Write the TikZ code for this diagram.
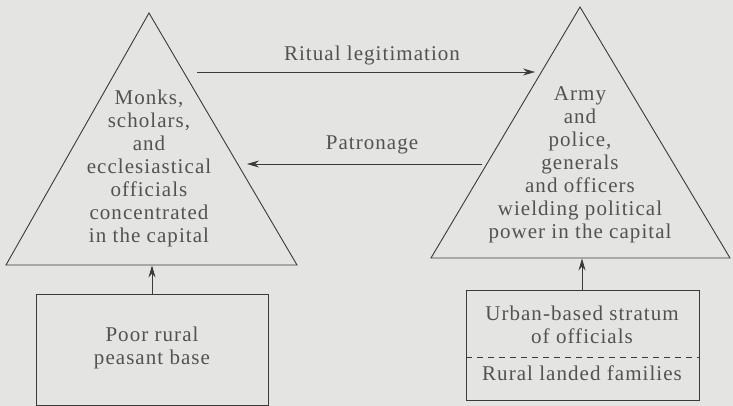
\documentclass[tikz,border=0pt]{standalone}
\usepackage{fontspec}
\setmainfont{Liberation Serif}[LetterSpace=5]
\usetikzlibrary{arrows.meta}
\definecolor{paper}{RGB}{228,228,226}
\definecolor{ink}{RGB}{58,58,58}
\definecolor{inktext}{RGB}{82,82,82}
\tikzset{
  frame/.style={draw=ink, line width=0.9pt},
  flow/.style={draw=ink, line width=0.8pt, -{Stealth[length=12pt,width=7pt,inset=4pt]}},
  label/.style={text=inktext, font={\fontsize{21}{23}\selectfont}, inner sep=0pt},
  block/.style={label, align=center},
}
\begin{document}
\begin{tikzpicture}[x=1pt,y=-1pt]
  % canvas
  \fill[paper] (0,0) rectangle (733,406);
  \useasboundingbox (0,0) rectangle (733,406);

  % the two pyramids
  \coordinate (lapex) at (149,13);
  \coordinate (lbl) at (6,265);
  \coordinate (lbr) at (297,265);
  \coordinate (rapex) at (580,7);
  \coordinate (rbl) at (431,258);
  \coordinate (rbr) at (730,258);
  \draw[frame, line join=miter] (lapex) -- (lbr) -- (lbl) -- cycle;
  \draw[frame, line join=miter] (rapex) -- (rbr) -- (rbl) -- cycle;

  \node[block] (clergy) at (149,168.5) {Monks,\\scholars,\\and\\ecclesiastical\\officials\\concentrated\\in the capital};
  \node[block] (military) at (580,165) {Army\\and\\police,\\generals\\and officers\\wielding political\\power in the capital};

  % base boxes
  \coordinate (lboxtl) at (36,294);
  \coordinate (lboxbr) at (268,405);
  \draw[frame] (lboxtl) rectangle (lboxbr);
  \node[block] (peasants) at (152,348) {Poor rural\\peasant base};

  \coordinate (rboxtl) at (466,290);
  \coordinate (rboxbr) at (699,400);
  \draw[frame] (rboxtl) rectangle (rboxbr);
  \coordinate (dashl) at (466,357);
  \coordinate (dashr) at (699,357);
  \draw[ink, line width=0.8pt, dash pattern=on 6pt off 5pt] (dashl) -- (dashr);
  \node[block] (urban) at (582,325) {Urban-based stratum\\of officials};
  \node[label, anchor=base] (landed) at (582,380) {Rural landed families};

  % support arrows from the boxes into the pyramids
  \coordinate (lboxtop) at (152,294);
  \coordinate (lbase) at (152,265.5);
  \coordinate (rboxtop) at (582,290);
  \coordinate (rbase) at (582,258.5);
  \draw[flow] (lboxtop) -- (lbase);
  \draw[flow] (rboxtop) -- (rbase);

  % exchange between the pyramids
  \coordinate (ritualfrom) at (197,72);
  \coordinate (ritualto) at (535,72);
  \coordinate (patronfrom) at (482,164);
  \coordinate (patronto) at (247,164);
  \draw[flow] (ritualfrom) -- (ritualto);
  \draw[flow] (patronfrom) -- (patronto);
  \node[label, anchor=base] (ritual) at (372,61) {Ritual legitimation};
  \node[label, anchor=base] (patronage) at (372,150) {Patronage};
\end{tikzpicture}
\end{document}
